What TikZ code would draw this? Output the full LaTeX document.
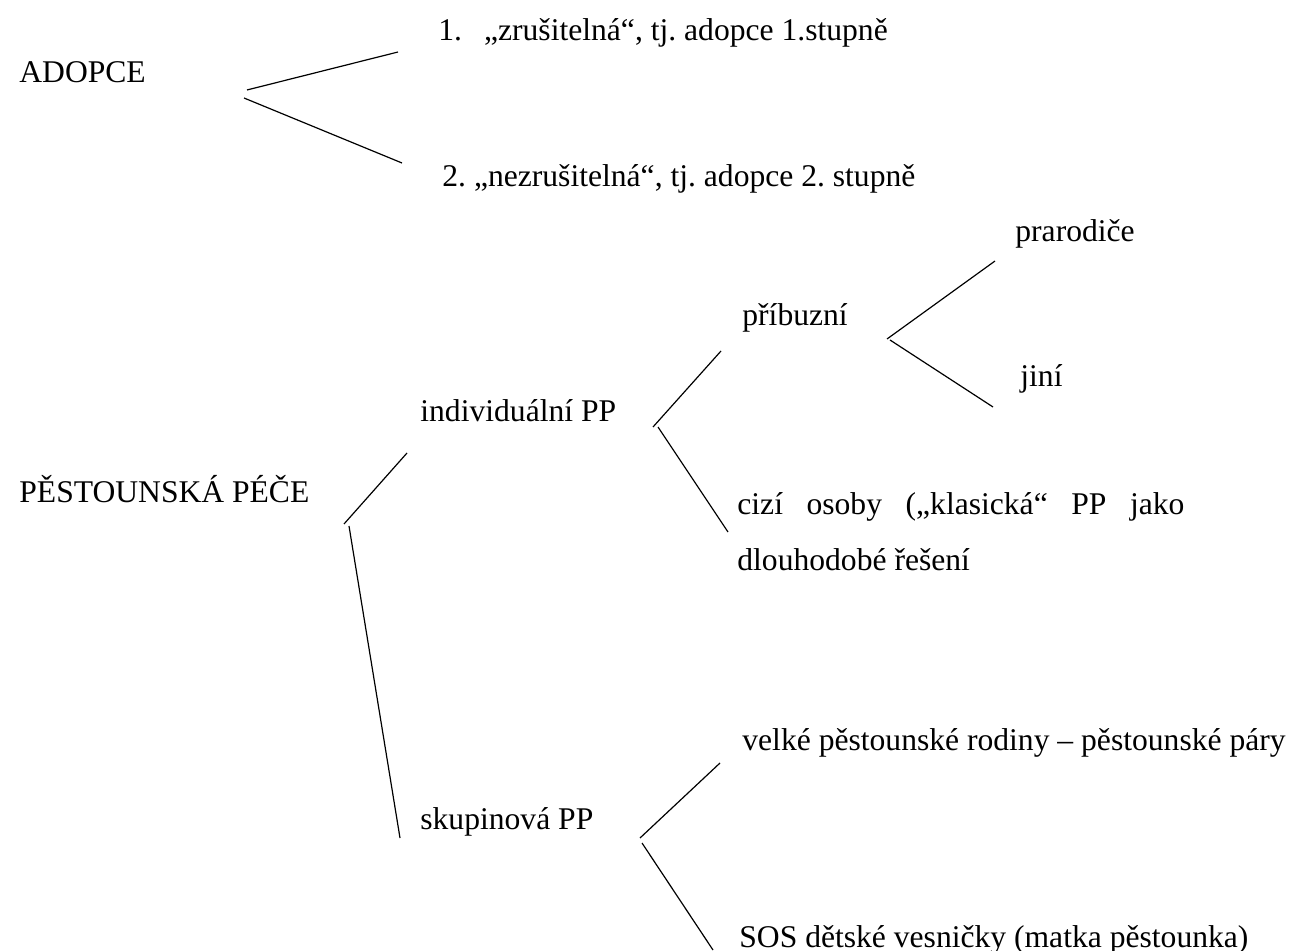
\documentclass[tikz,border=0pt]{standalone}
\usepackage{fontspec}
\setmainfont{Liberation Serif}
\usepackage{tikz}
\frenchspacing

\begin{document}
\begin{tikzpicture}[x=0.5pt,y=-0.5pt]
		\useasboundingbox (0,0) rectangle (1290,951);

		\begin{scope}[every node/.style={anchor=base west,inner sep=0pt,
		              font=\fontsize{15.8pt}{28pt}\selectfont}]
		    \node (adopce) at (19,83) {ADOPCE};
		    \node (zrus) at (438,41) {1.\hspace{11pt}„zrušitelná“, tj. adopce 1.stupně};
		    \node (nezrus) at (442,187) {2. „nezrušitelná“, tj. adopce 2. stupně};
		    \node (pece) at (19,503) {PĚSTOUNSKÁ PÉČE};
		    \node (indiv) at (420,422) {individuální PP};
		    \node (skup) at (420,829) {skupinová PP};
		    \node (pribuz) at (742,326) {příbuzní};
		    \node (praro) at (1015,242) {prarodiče};
		    \node (jini) at (1020,387) {jiní};
		    \node[text width=223.5pt,align=justify] (cizi) at (737,515)
		        {\tolerance=10000 cizí osoby („klasická“ PP jako dlouhodobé řešení};
		    \node (velke) at (742,750) {velké pěstounské rodiny – pěstounské páry};
		    \node (sos) at (739,947) {SOS dětské vesničky (matka pěstounka)};
		\end{scope}

		% line ends
		\coordinate (a0) at (247,90);   \coordinate (a1) at (398,52);
		\coordinate (a2) at (244,98);   \coordinate (a3) at (402,163);
		\coordinate (p0) at (344,524);  \coordinate (p1) at (407,453);
		\coordinate (p2) at (349,526);  \coordinate (p3) at (400,838);
		\coordinate (i0) at (653,427);  \coordinate (i1) at (721,351);
		\coordinate (i2) at (658,427);  \coordinate (i3) at (728,532);
		\coordinate (b0) at (887,339);  \coordinate (b1) at (995,261);
		\coordinate (b2) at (890,340);  \coordinate (b3) at (993,407);
		\coordinate (s0) at (640,838);  \coordinate (s1) at (720,763);
		\coordinate (s2) at (642,843);  \coordinate (s3) at (713,950);

		\begin{scope}[every edge/.style={draw=black,line width=0.6pt}]
		    \path [-] (a0) edge (a1);
		    \path [-] (a2) edge (a3);
		    \path [-] (p0) edge (p1);
		    \path [-] (p2) edge (p3);
		    \path [-] (i0) edge (i1);
		    \path [-] (i2) edge (i3);
		    \path [-] (b0) edge (b1);
		    \path [-] (b2) edge (b3);
		    \path [-] (s0) edge (s1);
		    \path [-] (s2) edge (s3);
		\end{scope}
\end{tikzpicture}
\end{document}
